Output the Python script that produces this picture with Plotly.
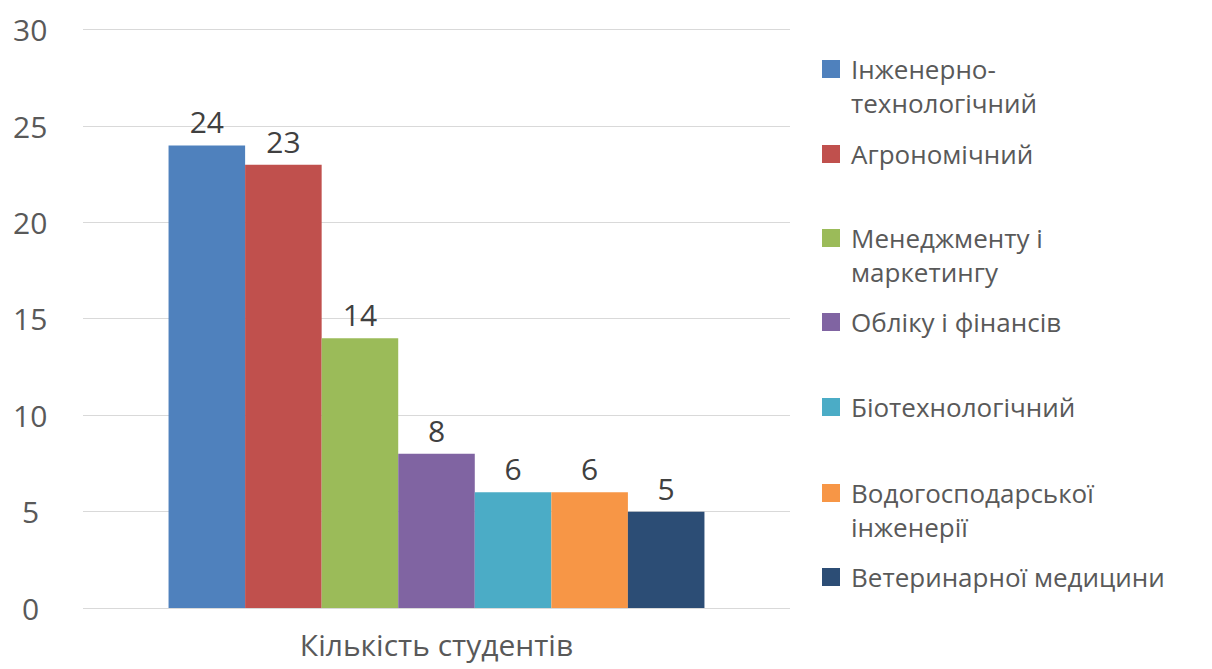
import plotly.graph_objects as go

# ── data ────────────────────────────────────────────────────────────
CATEGORY = ["Кількість студентів"]
FACULTIES = [
    "Інженерно-технологічний",
    "Агрономічний",
    "Менеджменту і маркетингу",
    "Обліку і фінансів",
    "Біотехнологічний",
    "Водогосподарської інженерії",
    "Ветеринарної медицини",
]
STUDENTS = [24, 23, 14, 8, 6, 6, 5]
Y_TICKS = [0, 5, 10, 15, 20, 25, 30]

# legend lines as they wrap in the original
LEGEND_LINES = [
    ["Інженерно-", "технологічний"],
    ["Агрономічний"],
    ["Менеджменту і", "маркетингу"],
    ["Обліку і фінансів"],
    ["Біотехнологічний"],
    ["Водогосподарської", "інженерії"],
    ["Ветеринарної медицини"],
]

COLORS = ["#4F81BD", "#C0504D", "#9BBB59", "#8064A2", "#4BACC6", "#F79646", "#2C4D75"]
TEXT = "#595959"
FONT = "Open Sans, sans-serif"

# ── plot area in pixels ─────────────────────────────────────────────
W, H = 1212, 669
L, R, T, B = 83, 790, 24, 608
Y_MAX = 30.3


def px_x(x):
    return (x - L) / (R - L)


def px_y(y):
    return (B - y) / (B - T)


fig = go.Figure()
for name, val, col in zip(FACULTIES, STUDENTS, COLORS):
    fig.add_trace(go.Bar(
        x=CATEGORY, y=[val], name=name,
        marker=dict(color=col, line_width=0),
        text=[val], textposition="outside",
        textfont=dict(size=30, color="#404040", family=FONT),
        cliponaxis=False,
        showlegend=False,
    ))

# y tick labels (centred like the original)
annotations = []
for v in Y_TICKS:
    annotations.append(dict(
        x=px_x(30), xref="paper", y=v, yref="y",
        text=str(v), showarrow=False, xanchor="center", yanchor="middle",
        font=dict(size=30, color=TEXT, family=FONT),
    ))

# manual legend
shapes = []
legend_y = [69, 154, 238, 322, 407, 493, 577]
line_gap = 34
for lines, y0, col in zip(LEGEND_LINES, legend_y, COLORS):
    shapes.append(dict(
        type="rect", xref="paper", yref="paper",
        x0=px_x(822), x1=px_x(840), y0=px_y(y0 + 9), y1=px_y(y0 - 9),
        fillcolor=col, line_width=0,
    ))
    for i, txt in enumerate(lines):
        annotations.append(dict(
            x=px_x(849), xref="paper", y=px_y(y0 + i * line_gap), yref="paper",
            text=txt, showarrow=False, xanchor="left", yanchor="middle",
            font=dict(size=26, color=TEXT, family=FONT),
        ))

fig.update_layout(
    width=W, height=H,
    paper_bgcolor="white", plot_bgcolor="white",
    margin=dict(l=L, r=W - R, t=T, b=H - B),
    barmode="group", bargap=0.242, bargroupgap=0,
    font=dict(family=FONT, color=TEXT),
    xaxis=dict(
        showline=False, showgrid=False, ticks="", automargin=False,
        tickfont=dict(size=30, color=TEXT, family=FONT),
        ticklabelstandoff=17,
    ),
    yaxis=dict(
        range=[0, Y_MAX], tickvals=Y_TICKS, showticklabels=False,
        gridcolor="#D9D9D9", gridwidth=1, zeroline=True, automargin=False,
        zerolinecolor="#D9D9D9", zerolinewidth=1, showline=False,
    ),
    annotations=annotations,
    shapes=shapes,
    showlegend=False,
)

fig.write_html(
    "out.html",
    config={"displayModeBar": False},
    post_script="document.body.style.margin='0';",
)
